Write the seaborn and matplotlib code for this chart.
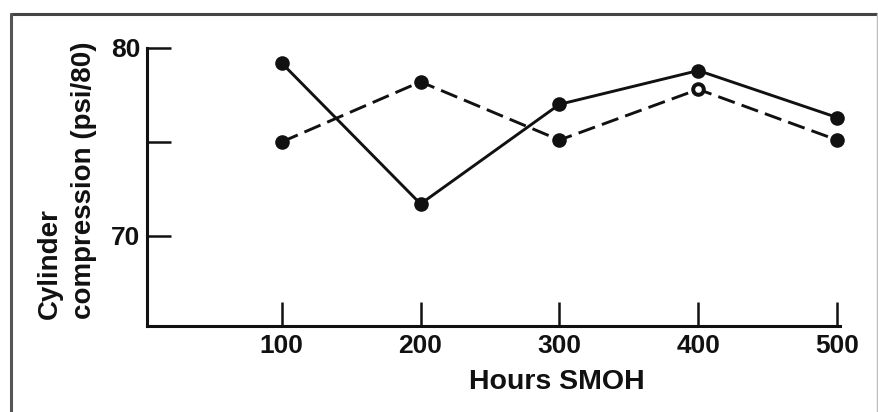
import numpy as np
import pandas as pd
import matplotlib.pyplot as plt
import seaborn as sns
from matplotlib.lines import Line2D

# Values
hours = [100, 200, 300, 400, 500]
solid_psi = [79.2, 71.7, 77.0, 78.8, 76.3]
dashed_psi = [75.0, 78.2, 75.1, 77.8, 75.1]
x_ticks = [100, 200, 300, 400, 500]
y_ticks = [70, 75, 80]
y_tick_labels = ["70", "", "80"]

sns.set_style("white")
plt.rcParams['font.family'] = ['Liberation Sans', 'DejaVu Sans']
plt.rcParams['font.weight'] = 'bold'

df = pd.DataFrame({
    'Hours': hours * 2,
    'psi': solid_psi + dashed_psi,
    'series': ['a'] * len(hours) + ['b'] * len(hours),
})

fig = plt.figure(figsize=(8.79, 4.12), dpi=100)
ax = fig.add_axes([0.1672, 0.2087, 0.7884, 0.6748])

sns.lineplot(data=df, x='Hours', y='psi', hue='series', style='series',
             palette=['#111111', '#111111'], dashes=[(1, 0), (6, 2.5)],
             markers=['o', 'o'], markersize=10.5, markeredgewidth=0,
             linewidth=2.1, legend=False, ax=ax, clip_on=False)

# the 400 h point on the dashed curve is drawn as a ring in the original
ax.scatter([hours[3]], [dashed_psi[3]], s=14, color='white', zorder=5, clip_on=False)

ax.set_xlim(3, 502)
ax.set_ylim(65.2, 80)
ax.set_xticks(x_ticks)
ax.set_yticks(y_ticks)
ax.set_yticklabels(y_tick_labels)
ax.tick_params(axis='both', direction='in', length=17, width=1.8,
               bottom=True, left=True,
               labelsize=19, color='#111111', labelcolor='#111111')
ax.tick_params(axis='x', pad=6)
ax.tick_params(axis='y', pad=5)
for lab in ax.get_xticklabels() + ax.get_yticklabels():
    lab.set_fontweight('bold')

sns.despine(ax=ax)
for side in ['left', 'bottom']:
    ax.spines[side].set_linewidth(2.2)
    ax.spines[side].set_color('#111111')

ax.set_xlabel('')
ax.set_ylabel('')
fig.text(0.634, 0.073, 'Hours SMOH', ha='center', va='center',
         fontsize=20.5, fontweight='bold', color='#111111')
fig.text(0.0765, 0.226, 'Cylinder\ncompression (psi/80)', rotation=90,
         ha='center', va='bottom', multialignment='left',
         fontsize=20, fontweight='bold', color='#111111', linespacing=1.4)

# scanned page frame
fig.add_artist(Line2D([0.013, 0.997], [0.965, 0.965], transform=fig.transFigure,
                      color='#444444', linewidth=2.2))
fig.add_artist(Line2D([0.013, 0.013], [0.0, 0.965], transform=fig.transFigure,
                      color='#555555', linewidth=2.2))
fig.add_artist(Line2D([0.998, 0.998], [0.0, 0.965], transform=fig.transFigure,
                      color='#bbbbbb', linewidth=1.0))

fig.savefig('out.png', dpi=100)
